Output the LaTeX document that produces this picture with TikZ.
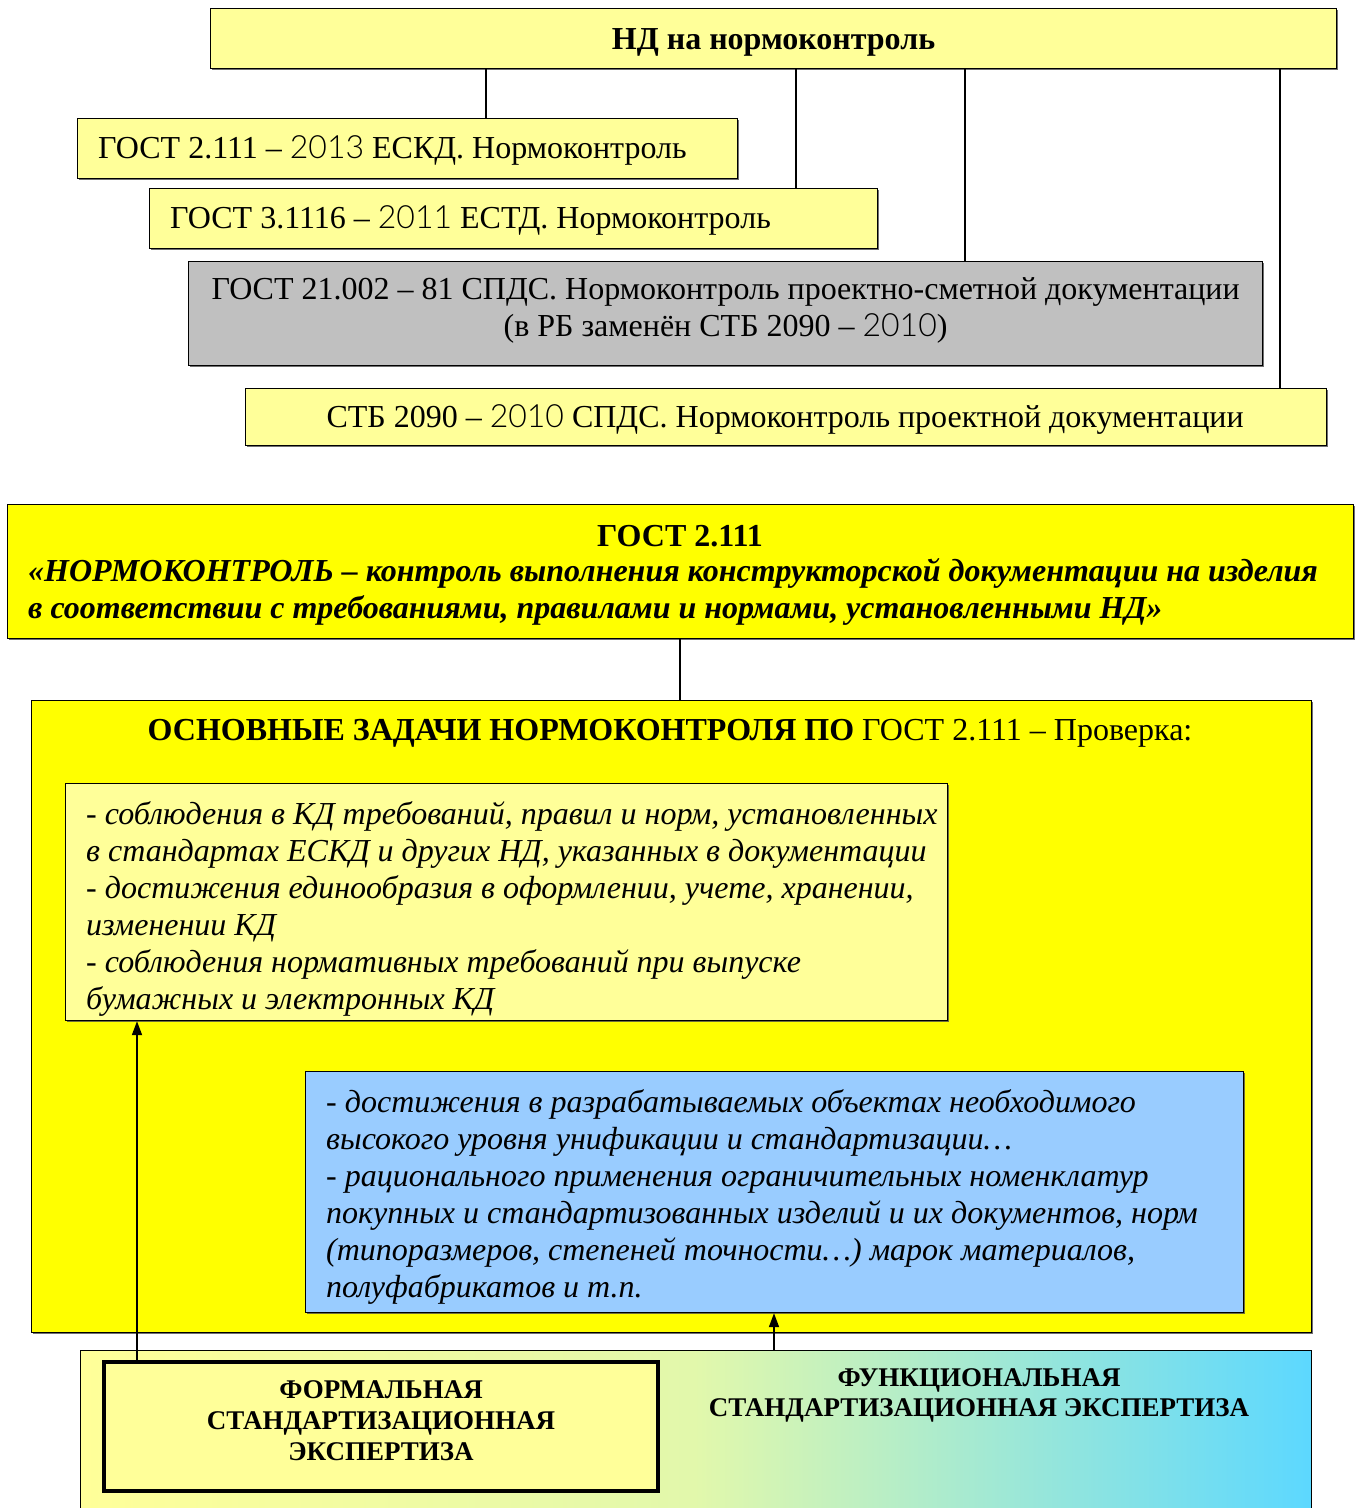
\documentclass[tikz,border=0pt]{standalone}
\usepackage{fontspec}
\setmainfont{Liberation Serif}
\newfontfamily\numfont{Lato Light}
\usetikzlibrary{shadows,arrows.meta}
\definecolor{lyel}{HTML}{FFFF99}
\definecolor{yel}{HTML}{FFFF00}
\definecolor{gry}{HTML}{C0C0C0}
\definecolor{blu}{HTML}{99CCFF}
\definecolor{cya}{HTML}{5CD8FF}
\newcommand{\nm}[1]{{\numfont #1}}
\tikzset{
  box/.style={draw=black, line width=1.2pt, anchor=north west, inner sep=0pt,
     drop shadow={shadow xshift=1.5pt, shadow yshift=-1.5pt, fill=black!70, opacity=0.8}},
  txt/.style={inner sep=0pt, font=\fontsize{32}{37}\selectfont},
  conn/.style={line width=1.2pt},
  arr/.style={line width=1.8pt, -{Triangle[length=14pt,width=10pt]}}
}
\begin{document}
\begin{tikzpicture}[x=1pt,y=-1pt]
\useasboundingbox (0,0) rectangle (1360,1508);
% top
\node[box, fill=lyel, minimum width=1126pt, minimum height=60pt] (nd) at (210,8) {};
\node[txt, font=\fontsize{32}{37}\selectfont\bfseries] (ndt) at ([yshift=-4pt]nd.center) {НД на нормоконтроль};
\node[box, fill=lyel, minimum width=660pt, minimum height=60pt] (b1) at (77,118) {};
\node[txt, anchor=west] (b1t) at ([xshift=21pt,yshift=-2pt]b1.west) {ГОСТ 2.111 – \nm{2013} ЕСКД. Нормоконтроль};
\node[box, fill=lyel, minimum width=728pt, minimum height=60pt] (b2) at (149,188) {};
\node[txt, anchor=west] (b2t) at ([xshift=21pt,yshift=-2pt]b2.west) {ГОСТ 3.1116 – \nm{2011} ЕСТД. Нормоконтроль};
\node[box, fill=gry, minimum width=1074pt, minimum height=104pt] (b3) at (188,261) {};
\node[txt, align=center] (b3t) at ([yshift=3pt]b3.center) {ГОСТ 21.002 – 81 СПДС. Нормоконтроль проектно-сметной документации\\(в РБ заменён СТБ 2090 – \nm{2010})};
\node[box, fill=lyel, minimum width=1081pt, minimum height=57pt] (b4) at (245,388) {};
\node[txt] (b4t) at ([xshift=-1pt,yshift=-2pt]b4.center) {СТБ 2090 – \nm{2010} СПДС. Нормоконтроль проектной документации};
\coordinate (c1) at (486,0);
\coordinate (c2) at (796,0);
\coordinate (c3) at (965,0);
\coordinate (c4) at (1280,0);
\draw[conn] (c1 |- nd.south) -- (c1 |- b1.north);
\draw[conn] (c2 |- nd.south) -- (c2 |- b2.north);
\draw[conn] (c3 |- nd.south) -- (c3 |- b3.north);
\draw[conn] (c4 |- nd.south) -- (c4 |- b4.north);
% definition
\node[box, fill=yel, minimum width=1346pt, minimum height=134pt] (def) at (7,504) {};
\node[txt, font=\fontsize{32}{37}\selectfont\bfseries] (deft1) at (680,536) {ГОСТ 2.111};
\node[txt, anchor=west, font=\fontsize{32}{37}\selectfont\bfseries\itshape] (deft2) at (28,573) {«НОРМОКОНТРОЛЬ – контроль выполнения конструкторской документации на изделия};
\node[txt, anchor=west, font=\fontsize{32}{37}\selectfont\bfseries\itshape] (deft3) at (28,610) {в соответствии с требованиями, правилами и нормами, установленными НД»};
% tasks
\node[box, fill=yel, minimum width=1280pt, minimum height=632pt] (tasks) at (31,700) {};
\coordinate (cm) at (680,0);
\draw[conn] (cm |- def.south) -- (cm |- tasks.north);
\node[txt] (taskt) at (670,733) {\textbf{ОСНОВНЫЕ ЗАДАЧИ НОРМОКОНТРОЛЯ ПО} ГОСТ 2.111 – Проверка:};
\node[box, fill=lyel, minimum width=882pt, minimum height=237pt] (ta) at (65,783) {};
\node[txt, anchor=north west, align=left, font=\fontsize{32}{37}\selectfont\itshape] (tat) at (86,801) {- соблюдения в КД требований, правил и норм, установленных\\в стандартах ЕСКД и других НД, указанных в документации\\- достижения единообразия в оформлении, учете, хранении,\\изменении КД\\- соблюдения нормативных требований при выпуске\\бумажных и электронных КД};
\node[box, fill=blu, minimum width=938pt, minimum height=241pt] (tb) at (305,1071) {};
\node[txt, anchor=north west, align=left, font=\fontsize{32}{37}\selectfont\itshape] (tbt) at (326,1089) {- достижения в разрабатываемых объектах необходимого\\высокого уровня унификации и стандартизации…\\- рационального применения ограничительных номенклатур\\покупных и стандартизованных изделий и их документов, норм\\(типоразмеров, степеней точности…) марок материалов,\\полуфабрикатов и т.п.};
% bottom
\node[draw=black, line width=1.2pt, anchor=north west, inner sep=0pt, minimum width=1231pt, minimum height=170pt,
  left color=lyel, right color=cya, middle color=cya!18!lyel] (fun) at (80,1350) {};
\node[draw=black, line width=4pt, anchor=north west, fill=lyel, inner sep=0pt, minimum width=554pt, minimum height=129pt] (form) at (102,1360) {};
\node[txt, align=center, font=\fontsize{27}{31}\selectfont\bfseries] (formt) at ([yshift=6pt]form.center) {ФОРМАЛЬНАЯ\\СТАНДАРТИЗАЦИОННАЯ\\ЭКСПЕРТИЗА};
\node[txt, align=center, font=\fontsize{27}{30}\selectfont\bfseries] (funt) at (979,1395) {ФУНКЦИОНАЛЬНАЯ\\СТАНДАРТИЗАЦИОННАЯ ЭКСПЕРТИЗА};
\coordinate (a1) at (137,0);
\coordinate (a2) at (774,0);
\draw[arr] (a1 |- form.north) -- (a1 |- ta.south);
\draw[arr] (a2 |- fun.north) -- (a2 |- tb.south);
\end{tikzpicture}
\end{document}
